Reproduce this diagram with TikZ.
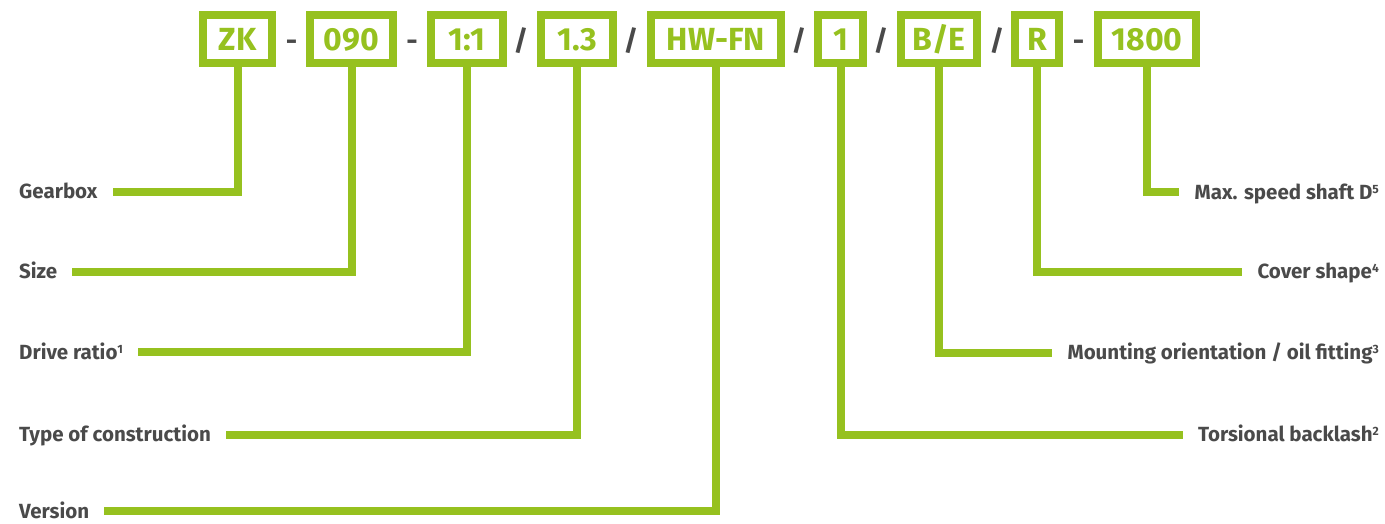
\documentclass[tikz,border=0pt]{standalone}
\usepackage{fontspec}
\setmainfont{Fira Sans}
\definecolor{kgreen}{HTML}{96C11F}
\definecolor{kgray}{HTML}{4A4A4A}
\newcommand\supnum[1]{\raisebox{6pt}{\fontsize{12}{12}\selectfont #1}}
\begin{document}
\begin{tikzpicture}[x=1pt,y=-1pt,
  codebox/.style={draw=kgreen, line width=8pt, minimum height=48pt, inner sep=0pt,
    text=kgreen, text height=22pt, text depth=0pt,
    font=\fontsize{32}{32}\selectfont\bfseries},
  sepmark/.style={text=kgray, inner sep=0pt, text height=22pt, text depth=0pt,
    font=\fontsize{28}{28}\selectfont\bfseries},
  lbl/.style={text=kgray, inner sep=0pt, text height=14pt, text depth=0pt,
    font=\fontsize{20.5}{20.5}\selectfont\bfseries},
  conn/.style={draw=kgreen, line width=8pt, line join=miter}]
\useasboundingbox (0,0) rectangle (1385,523);
% code boxes
\node[codebox, minimum width=69pt] (zk) at (237.5,39) {ZK};
\node[codebox, minimum width=83pt] (size) at (351.5,39) {090};
\node[codebox, minimum width=72pt] (ratio) at (467,39) {1:1};
\node[codebox, minimum width=72pt] (constr) at (577,39) {1.3};
\node[codebox, minimum width=130pt] (vers) at (716,39) {HW-FN};
\node[codebox, minimum width=45pt] (back) at (840.5,39) {1};
\node[codebox, minimum width=76pt] (mount) at (939,39) {B/E};
\node[codebox, minimum width=44pt] (cover) at (1037,39) {R};
\node[codebox, minimum width=98pt] (speed) at (1147,39) {1800};
% separators
\node[sepmark] (s1) at (291.5,39) {-};
\node[sepmark] (s2) at (412,39) {-};
\node[sepmark] (s3) at (521,39) {/};
\node[sepmark] (s4) at (631,39) {/};
\node[sepmark] (s5) at (799,39) {/};
\node[sepmark] (s6) at (881,39) {/};
\node[sepmark] (s7) at (997,39) {/};
\node[sepmark] (s8) at (1078.5,39) {-};
% left labels
\node[lbl, anchor=west] (lgear) at (19,191.5) {Gearbox};
\node[lbl, anchor=west] (lsize) at (19,271.5) {Size};
\node[lbl, anchor=west] (lratio) at (19,352) {Drive ratio\supnum{1}};
\node[lbl, anchor=west] (lconstr) at (19,434.5) {Type of construction};
\node[lbl, anchor=west] (lvers) at (19,511) {Version};
% right labels
\node[lbl, anchor=east] (lspeed) at (1379,192) {Max. speed shaft D\supnum{5}};
\node[lbl, anchor=east] (lcover) at (1379,271.5) {Cover shape\supnum{4}};
\node[lbl, anchor=east] (lmount) at (1379,352.5) {Mounting orientation / oil fitting\supnum{3}};
\node[lbl, anchor=east] (lback) at (1379,434.5) {Torsional backlash\supnum{2}};
% connectors
\draw[conn] (zk.south) |- ([xshift=15pt]lgear.east);
\draw[conn] (size.south) |- ([xshift=15pt]lsize.east);
\draw[conn] (ratio.south) |- ([xshift=15pt]lratio.east);
\draw[conn] (constr.south) |- ([xshift=15pt]lconstr.east);
\draw[conn] (vers.south) |- ([xshift=15pt]lvers.east);
\draw[conn] (back.south) |- ([xshift=-15pt]lback.west);
\draw[conn] (mount.south) |- ([xshift=-15pt]lmount.west);
\draw[conn] (cover.south) |- ([xshift=-15pt]lcover.west);
\draw[conn] (speed.south) |- ([xshift=-15pt]lspeed.west);
\end{tikzpicture}
\end{document}
